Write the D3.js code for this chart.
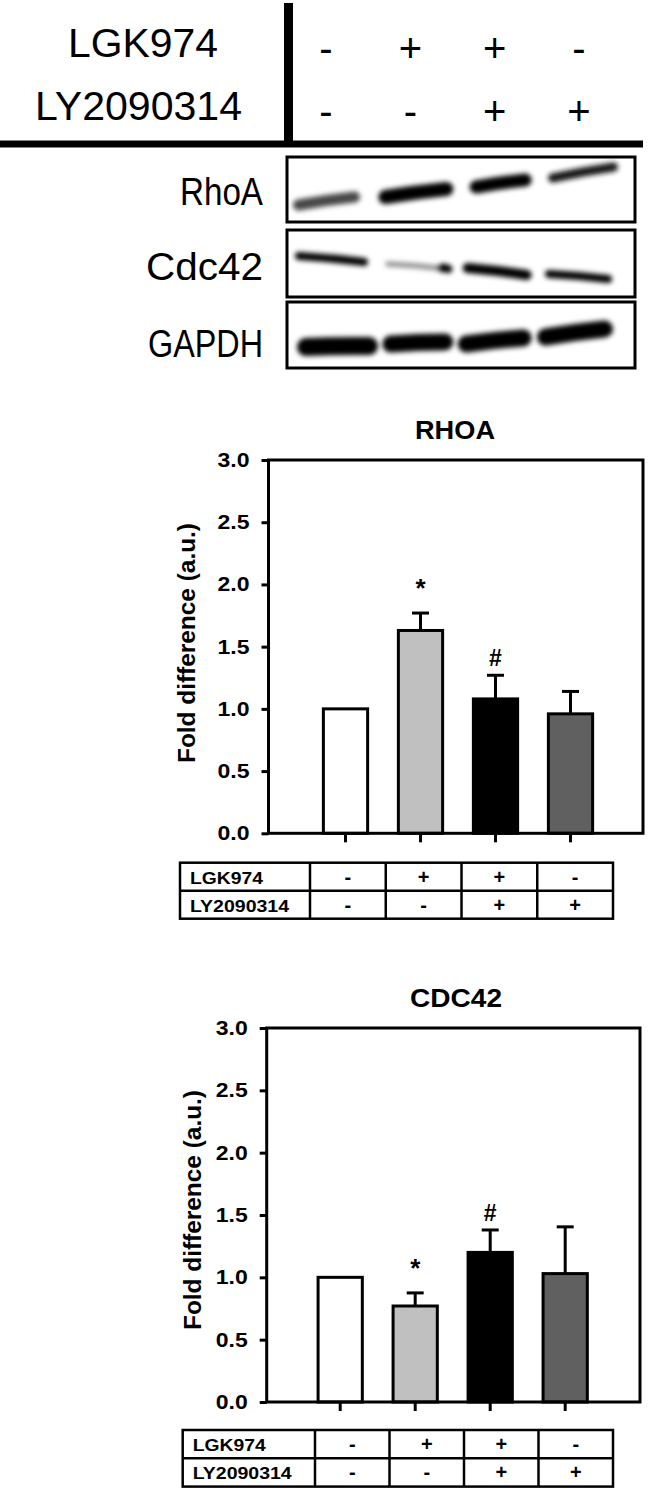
<!DOCTYPE html>
<html><head><meta charset="utf-8">
<script src="https://cdn.jsdelivr.net/npm/d3@7"></script>
<style>body{margin:0;background:#fff} text{font-family:"Liberation Sans",Arial,sans-serif}</style>
</head><body><svg id="c" width="650" height="1495"></svg>
<script>
// ---------------- data ----------------
const groups = ["Control", "LGK974", "LGK974+LY2090314", "LY2090314"];
const lgk974 = ["-", "+", "+", "-"];
const ly2090314 = ["-", "-", "+", "+"];
const rhoaMean = [1.00, 1.63, 1.08, 0.96];
const rhoaErr = [0, 0.14, 0.19, 0.18];
const rhoaSig = ["", "*", "#", ""];
const cdc42Mean = [1.00, 0.77, 1.20, 1.03];
const cdc42Err = [0, 0.105, 0.18, 0.375];
const cdc42Sig = ["", "*", "#", ""];
const yTicks = [0, 0.5, 1.0, 1.5, 2.0, 2.5, 3.0];
const blotProteins = ["RhoA", "Cdc42", "GAPDH"];
const rhoaBand = [0.72, 1, 1, 0.92];
const cdc42Band = [1, 0.45, 1, 1];
const gapdhBand = [1, 1, 1, 1];

// ---------------- style / layout ----------------
const barFill = ["#ffffff", "#c0c0c0", "#000000", "#606060"];
const svg = d3.select("#c");
const defs = svg.append("defs");
defs.append("filter").attr("id", "blur").attr("x", "-20%").attr("y", "-100%").attr("width", "140%").attr("height", "300%")
  .append("feGaussianBlur").attr("stdDeviation", 2.8);

// ---------------- top header ----------------
const lane = d3.scalePoint().domain(groups).range([330, 583]);
svg.append("rect").attr("x", 284).attr("y", 3).attr("width", 9).attr("height", 143).attr("fill", "#000");
svg.append("rect").attr("x", 0).attr("y", 140.5).attr("width", 643).attr("height", 7).attr("fill", "#000");
svg.append("text").attr("x", 68).attr("y", 57).attr("font-size", 40).attr("textLength", 150).attr("lengthAdjust", "spacingAndGlyphs").text("LGK974");
svg.append("text").attr("x", 35).attr("y", 120).attr("font-size", 40).attr("textLength", 207).attr("lengthAdjust", "spacingAndGlyphs").text("LY2090314");
[[lgk974, 62], [ly2090314, 125]].forEach(([row, by]) => {
  svg.append("g").selectAll("text").data(row).join("text")
    .attr("x", (d, i) => lane(groups[i]) - 4).attr("y", by)
    .attr("text-anchor", "middle").attr("font-size", 40).text(d => d);
});

// ---------------- blots ----------------
const blotBoxes = [
  {name: "RhoA", top: 157, bottom: 222, base: 205, len: 83, inten: rhoaBand,
   shapes: [[-37, 30, 48, 40, 11], [-36, 39, 40, 32, 14], [-29, 33, 30, 23, 13], [-35, 35, 21, 10, 9]]},
  {name: "Cdc42", top: 230, bottom: 297, base: 280, len: 117, inten: cdc42Band,
   shapes: [[-35, 38, 26, 32, 8], [-29, 26, 34, 38, 5], [-36, 33, 38, 45, 10], [-38, 29, 44, 49, 8]],
   extra: [[1, 23, 38, 38, 39, 8]]},
  {name: "GAPDH", top: 302, bottom: 368, base: 357, len: 115, inten: gapdhBand,
   shapes: [[-33, 48, 45, 44, 18], [-32, 39, 42, 40, 17], [-41, 33, 42, 36, 17], [-46, 30, 35, 27, 17]]}
];
const shade = d3.interpolateRgb("#ffffff", "#000000");
blotBoxes.forEach(b => {
  const g = svg.append("g");
  const bandG = g.append("g").attr("filter", "url(#blur)");
  const drawBand = (cx, dx0, dx1, y0, y1, t, v) => {
    const xa = cx + dx0 + t / 2, xb = cx + dx1 - t / 2;
    const ya = b.top + y0, yb = b.top + y1;
    bandG.append("path")
      .attr("d", `M${xa},${ya} Q${(xa + xb) / 2},${(ya + yb) / 2 - 1} ${xb},${yb}`)
      .attr("fill", "none").attr("stroke", shade(v)).attr("stroke-width", t).attr("stroke-linecap", "round");
  };
  groups.forEach((gr, i) => {
    const s = b.shapes[i];
    drawBand(lane(gr), s[0], s[1], s[2], s[3], s[4], b.inten[i]);
  });
  (b.extra || []).forEach(e => drawBand(lane(groups[e[0]]), e[1], e[2], e[3], e[4], e[5], 1));
  g.append("rect").attr("x", 287).attr("y", b.top).attr("width", 348).attr("height", b.bottom - b.top)
    .attr("fill", "none").attr("stroke", "#000").attr("stroke-width", 3);
  g.append("text").attr("x", 263 - b.len).attr("y", b.base).attr("font-size", 39)
    .attr("textLength", b.len).attr("lengthAdjust", "spacingAndGlyphs").text(b.name);
});

// ---------------- bar charts ----------------
function chart(c) {
  const g = svg.append("g");
  const y = d3.scaleLinear().domain([0, 3]).range([c.yBot, c.yTop]);
  const x = d3.scaleBand().domain(groups).range([c.x0 + c.padL, c.x0 + c.padL + 300]).paddingInner(0.37).paddingOuter(0.185);
  const bw = x.bandwidth();

  g.append("text").attr("x", c.titleX).attr("y", c.titleY).attr("text-anchor", "middle")
    .attr("font-size", 25).attr("font-weight", "bold").attr("textLength", c.titleLen).attr("lengthAdjust", "spacingAndGlyphs").text(c.title);

  g.append("g").selectAll("rect").data(groups).join("rect")
    .attr("x", d => x(d) + 1.5).attr("width", bw - 3)
    .attr("y", (d, i) => y(c.means[i])).attr("height", (d, i) => y(0) - y(c.means[i]))
    .attr("fill", (d, i) => barFill[i]).attr("stroke", "#000").attr("stroke-width", 3);

  const eg = g.append("g").attr("stroke", "#000").attr("stroke-width", 3);
  groups.forEach((d, i) => {
    if (!c.errs[i]) return;
    const cx = x(d) + bw / 2, top = y(c.means[i] + c.errs[i]);
    eg.append("line").attr("x1", cx).attr("x2", cx).attr("y1", y(c.means[i])).attr("y2", top);
    eg.append("line").attr("x1", cx - 8.5).attr("x2", cx + 8.5).attr("y1", top).attr("y2", top);
  });

  groups.forEach((d, i) => {
    const s = c.sig[i];
    if (!s) return;
    const top = y(c.means[i] + c.errs[i]);
    g.append("text").attr("x", x(d) + bw / 2).attr("y", s === "*" ? top - 16 : top - 9)
      .attr("text-anchor", "middle").attr("font-weight", "bold").attr("font-size", s === "*" ? 26 : 23).text(s);
  });

  g.append("rect").attr("x", c.x0).attr("y", c.yTop).attr("width", c.x1 - c.x0).attr("height", c.yBot - c.yTop)
    .attr("fill", "none").attr("stroke", "#000").attr("stroke-width", 3);

  const ya = g.append("g").attr("transform", `translate(${c.x0},0)`)
    .call(d3.axisLeft(y).tickValues(yTicks).tickSize(7).tickPadding(12).tickFormat(d3.format(".1f")));
  ya.select(".domain").remove();
  ya.selectAll("line").attr("stroke-width", 3);
  ya.selectAll("text").attr("font-size", 20).attr("font-weight", "bold").attr("fill", "#000")
    .attr("font-family", "Liberation Sans, Arial, sans-serif")
    .attr("textLength", 32).attr("lengthAdjust", "spacingAndGlyphs");

  const xa = g.append("g").attr("transform", `translate(0,${c.yBot})`)
    .call(d3.axisBottom(x).tickSize(9).tickFormat(""));
  xa.select(".domain").remove();
  xa.selectAll("line").attr("stroke-width", 3);

  g.append("text").attr("transform", `translate(${c.labelX},${c.labelCY}) rotate(-90)`)
    .attr("text-anchor", "middle").attr("font-size", 23).attr("font-weight", "bold")
    .attr("textLength", 240).attr("lengthAdjust", "spacingAndGlyphs").text("Fold difference (a.u.)");

  const t = c.table;
  const cols = d3.scaleBand().domain(groups).range([t.split, t.right]);
  const tg = g.append("g");
  tg.append("rect").attr("x", t.left).attr("y", t.top).attr("width", t.right - t.left).attr("height", 2 * t.rowH)
    .attr("fill", "none").attr("stroke", "#000").attr("stroke-width", 2.5);
  tg.append("line").attr("x1", t.left).attr("x2", t.right).attr("y1", t.top + t.rowH).attr("y2", t.top + t.rowH)
    .attr("stroke", "#000").attr("stroke-width", 2.5);
  tg.selectAll("line.v").data(groups).join("line").attr("class", "v")
    .attr("x1", d => cols(d)).attr("x2", d => cols(d)).attr("y1", t.top).attr("y2", t.top + 2 * t.rowH)
    .attr("stroke", "#000").attr("stroke-width", 2.5);
  [["LGK974", lgk974, 73], ["LY2090314", ly2090314, 99]].forEach(([lab, row, len], r) => {
    const by = t.top + r * t.rowH + 21;
    tg.append("text").attr("x", t.left + 10).attr("y", by).attr("font-size", 17).attr("font-weight", "bold")
      .attr("textLength", len).attr("lengthAdjust", "spacingAndGlyphs").text(lab);
    tg.append("g").selectAll("text").data(row).join("text")
      .attr("x", (d, i) => cols(groups[i]) + cols.bandwidth() / 2).attr("y", by)
      .attr("text-anchor", "middle").attr("font-size", 20).attr("font-weight", "bold").text(d => d);
  });
}

chart({x0: 268.5, x1: 643, yTop: 460, yBot: 833.3, padL: 39.5,
  title: "RHOA", titleX: 455, titleY: 439, titleLen: 80,
  means: rhoaMean, errs: rhoaErr, sig: rhoaSig, labelX: 195, labelCY: 643,
  table: {left: 180, split: 310, right: 613, top: 862.7, rowH: 28}});

chart({x0: 266.7, x1: 640, yTop: 1028, yBot: 1402, padL: 36,
  title: "CDC42", titleX: 456, titleY: 1007, titleLen: 92,
  means: cdc42Mean, errs: cdc42Err, sig: cdc42Sig, labelX: 201, labelCY: 1210,
  table: {left: 182.7, split: 315, right: 613, top: 1430, rowH: 28.3}});
</script></body></html>
